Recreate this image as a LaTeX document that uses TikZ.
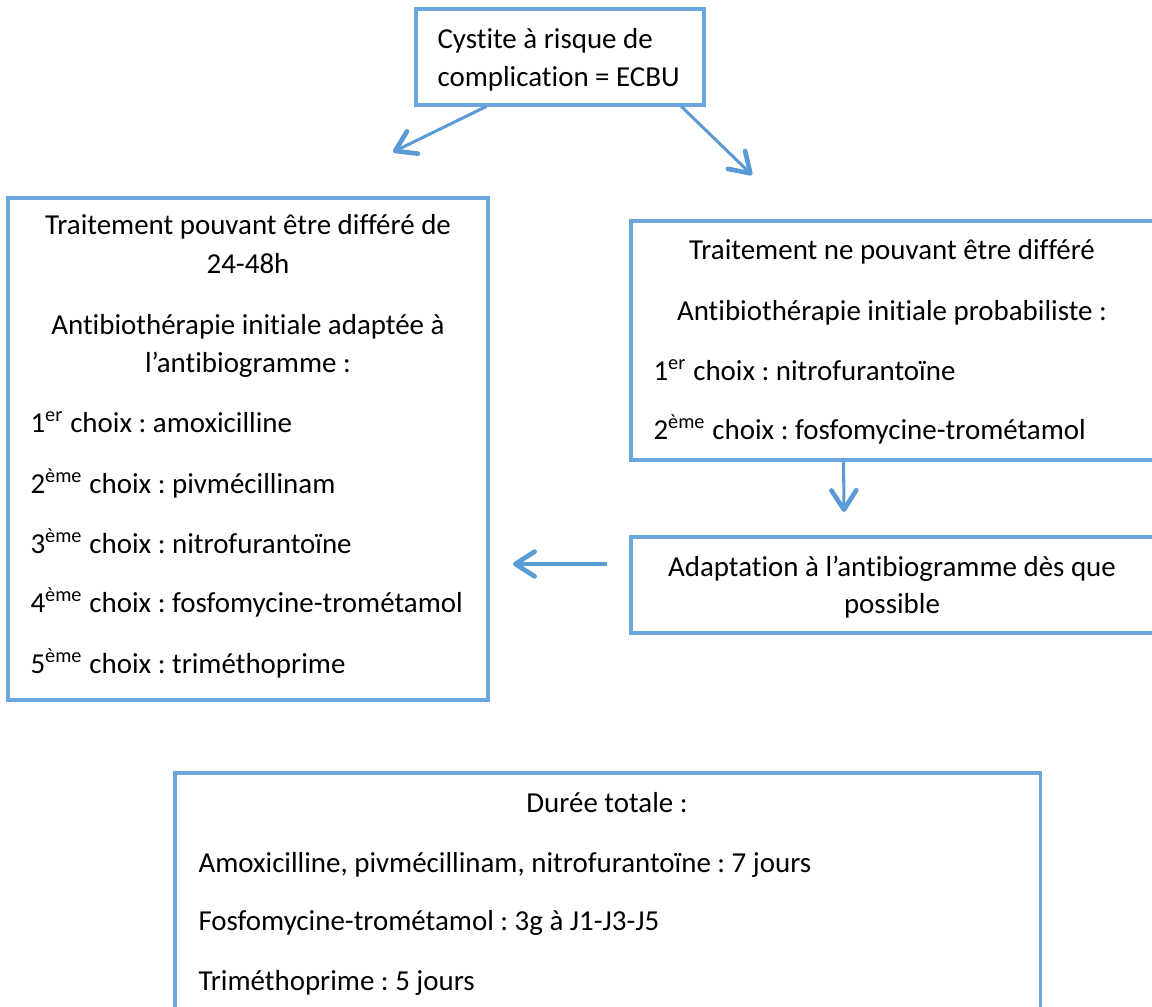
\documentclass[tikz,border=0pt]{standalone}
\usepackage{fontspec}
\setmainfont{Carlito}[Ligatures=NoCommon]
\usetikzlibrary{arrows.meta,fit,calc}
\definecolor{boxblue}{RGB}{108,166,222}
\definecolor{arrowblue}{RGB}{91,155,213}
\frenchspacing

\tikzset{
  box/.style={draw=boxblue, line width=1.1pt, inner sep=0pt},
  arr/.style={draw=arrowblue, line width=1.1pt,
    -{Straight Barb[length=7pt,width=9pt,line width=1.7pt,round]}},
  txt/.style={inner sep=0pt, anchor=base},
  item/.style={inner sep=0pt, anchor=base west},
}

\begin{document}
\begin{tikzpicture}[x=0.363pt, y=-0.363pt,
  every node/.append style={font=\fontsize{10.5}{12.8}\selectfont}]
\useasboundingbox (0,0) rectangle (1152,1007);
\clip (0,0) rectangle (1152,1007);

% Boxes
\node[box, fit={(416,9) (704,105)}] (ecbu) {};
\node[box, fit={(8,198) (488,700)}] (differe) {};
\node[box, fit={(631,221) (1154,460)}] (nondiff) {};
\node[box, fit={(631,537) (1154,633)}] (adapt) {};
\node[box, fit={(175,773) (1040,1060)}] (duree) {};

% Top box
\node[item] (ecbu1) at (437,49) {Cystite à risque de};
\node[item] (ecbu2) at (437,87) {complication = ECBU};

% Left box
\node[txt] (dif1) at (248,235) {Traitement pouvant être différé de};
\node[txt] (dif2) at (248,274) {24-48h};
\node[txt] (dif3) at (248,335) {Antibiothérapie initiale adaptée à};
\node[txt] (dif4) at (248,373) {l’antibiogramme :};
\node[item] (dif5) at (30,432) {1\textsuperscript{er} choix : amoxicilline};
\node[item] (dif6) at (30,493) {2\textsuperscript{ème} choix : pivmécillinam};
\node[item] (dif7) at (30,553) {3\textsuperscript{ème} choix : nitrofurantoïne};
\node[item] (dif8) at (30,612) {4\textsuperscript{ème} choix : fosfomycine-trométamol};
\node[item] (dif9) at (30,673) {5\textsuperscript{ème} choix : triméthoprime};

% Right box
\node[txt] (nd1) at (892,260) {Traitement ne pouvant être différé};
\node[txt] (nd2) at (892,320) {Antibiothérapie initiale probabiliste :};
\node[item] (nd3) at (653,380) {1\textsuperscript{er} choix : nitrofurantoïne};
\node[item] (nd4) at (653,439) {2\textsuperscript{ème} choix : fosfomycine-trométamol};

% Adaptation box
\node[txt] (ad1) at (892,576) {Adaptation à l’antibiogramme dès que};
\node[txt] (ad2) at (892,613) {possible};

% Bottom box
\node[txt] (du1) at (607,812) {Durée totale :};
\node[item] (du2) at (198,872) {Amoxicilline, pivmécillinam, nitrofurantoïne : 7 jours};
\node[item] (du3) at (198,930) {Fosfomycine-trométamol : 3g à J1-J3-J5};
\node[item] (du4) at (198,990) {Triméthoprime : 5 jours};

% Arrows
\coordinate (ltip) at (393,152);
\coordinate (rtip) at (752,175);
\coordinate (dtip) at (844,512);
\coordinate (lstart) at (607,564);
\coordinate (lend) at (513,564);
\draw[arr] ($(ecbu.south west)!0.2465!(ecbu.south east)$) -- (ltip);
\draw[arr] ($(ecbu.south west)!0.917!(ecbu.south east)$) -- (rtip);
\draw[arr] ($(nondiff.south west)!0.407!(nondiff.south east)$) -- (dtip);
\draw[arr] (lstart) -- (lend);
\end{tikzpicture}
\end{document}
